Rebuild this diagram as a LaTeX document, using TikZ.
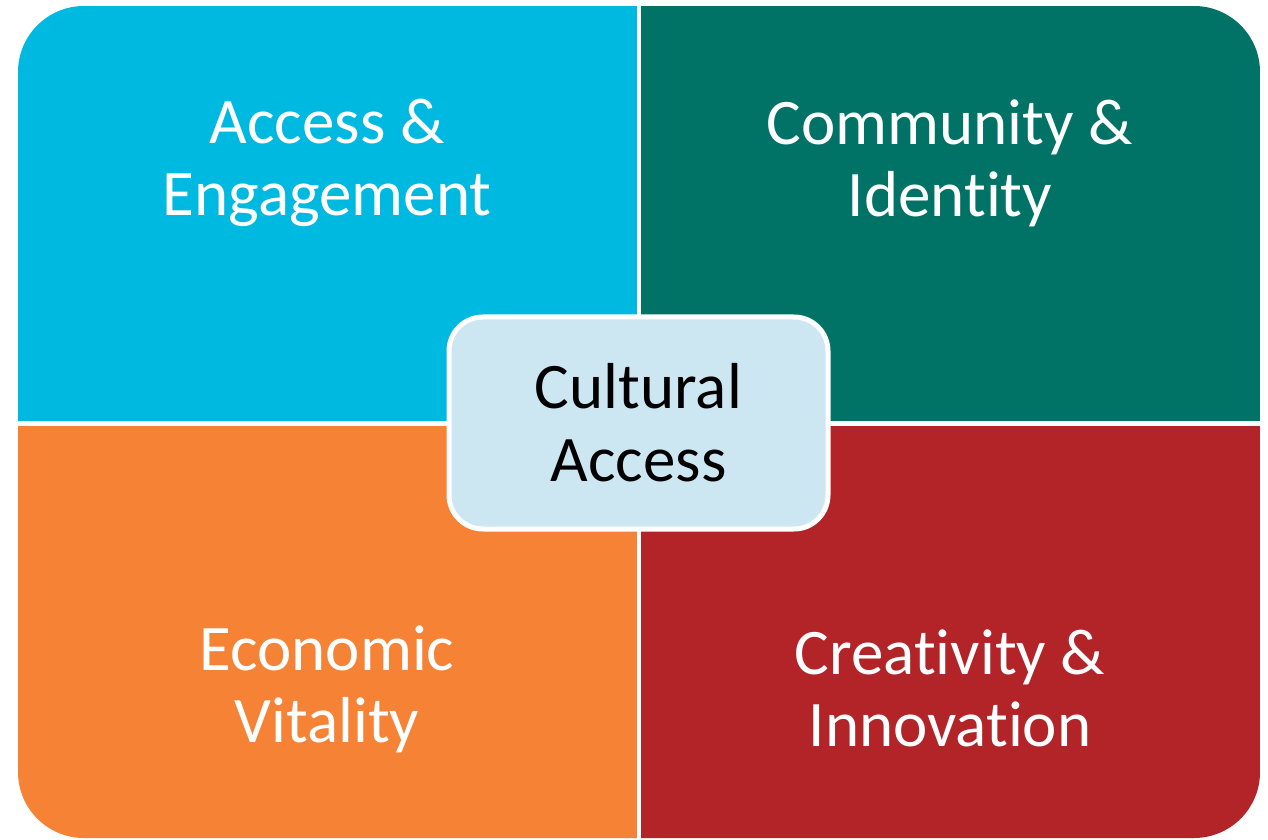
\documentclass[tikz,border=0pt]{standalone}
\usepackage{fontspec}
\setmainfont[Ligatures=NoCommon]{Carlito}
\usepackage{tikz}
\usetikzlibrary{positioning}
\definecolor{accesscol}{HTML}{00B9E1}
\definecolor{communitycol}{HTML}{007366}
\definecolor{economiccol}{HTML}{F58235}
\definecolor{creativecol}{HTML}{B22428}
\definecolor{centercol}{HTML}{CCE6F2}
\tikzset{x=1pt, y=1pt, % one unit is one pixel of the picture
quad/.style={inner sep=0, outer sep=0, minimum width=619, minimum height=415}, % sets the size of each quarter
quadtext/.style={text=white, align=center, font=\fontsize{65}{72}\selectfont}, % sets the look of the quarter labels
hub/.style={draw=white, line width=5, fill=centercol, rounded corners=34, minimum width=379, minimum height=212, align=center, font=\fontsize{65}{73}\selectfont}, % the box in the middle
}

\begin{document}
\begin{tikzpicture}
\useasboundingbox (0,0) rectangle (1268,839);

\begin{scope}
\clip[rounded corners=66] (18,1) rectangle (1260,833);
\node[quad, fill=accesscol] (access) at (327,625.5) {};
\node[quad, fill=communitycol] (community) at (950.5,625.5) {};
\node[quad, fill=economiccol] (economic) at (327,205.5) {};
\node[quad, fill=creativecol] (creative) at (950.5,205.5) {};
\end{scope}

\node[quadtext] (accesstext) at (327,676) {Access \&\\Engagement};
\node[quadtext] (communitytext) at (950,676) {Community \&\\Identity};
\node[quadtext] (economictext) at (327,150) {Economic\\Vitality};
\node[quadtext] (creativetext) at (950,151) {Creativity \&\\Innovation};

\node[hub] (cultural) at (638.5,416) {Cultural\\Access};

\end{tikzpicture}
\end{document}
